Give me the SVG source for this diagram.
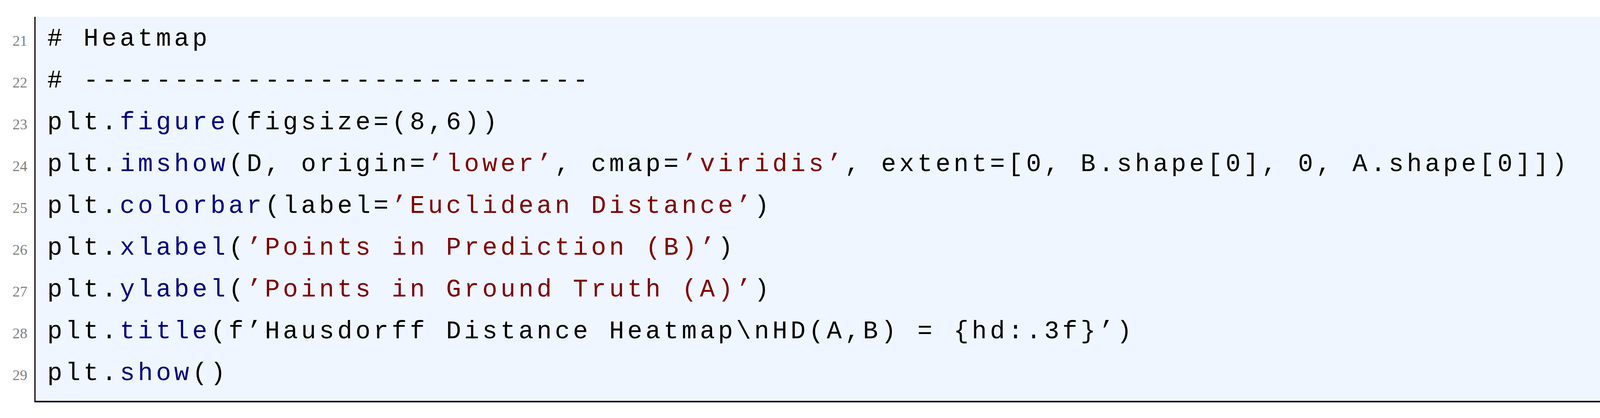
<svg xmlns="http://www.w3.org/2000/svg" width="4401" height="1070" viewBox="0 0 4401 1070">
<style>
.code{font-family:"Liberation Mono","DejaVu Sans Mono",monospace;font-size:64px;letter-spacing:8px;fill:#000;white-space:pre}
.kw{fill:#000080}
.st{fill:#800000}
.ln{font-family:"Liberation Serif","DejaVu Serif",serif;font-size:38px;fill:#808080;text-anchor:end}
</style>
<rect width="4401" height="1070" fill="#fff"/>
<g id="listing">
<rect x="88" y="43" width="4233" height="985" fill="#EFF6FF"/>
<line x1="89.5" y1="43" x2="89.5" y2="1028" stroke="#000" stroke-width="3"/>
<line x1="4321" y1="43" x2="4321" y2="1030" stroke="#000" stroke-width="4"/>
<line x1="88" y1="1028" x2="4323" y2="1028" stroke="#000" stroke-width="4"/>
</g>
<g id="linenumbers">
<text class="ln" x="70" y="117">21</text>
<text class="ln" x="70" y="224">22</text>
<text class="ln" x="70" y="331">23</text>
<text class="ln" x="70" y="438">24</text>
<text class="ln" x="70" y="545">25</text>
<text class="ln" x="70" y="652">26</text>
<text class="ln" x="70" y="759">27</text>
<text class="ln" x="70" y="866">28</text>
<text class="ln" x="70" y="973">29</text>
</g>
<g id="code" xml:space="preserve">
<text class="code" x="121" y="117"># Heatmap</text>
<text class="code" x="121" y="224"># ----------------------------</text>
<text class="code" x="121" y="331">plt.<tspan class="kw">figure</tspan>(figsize=(8,6))</text>
<text class="code" x="121" y="438">plt.<tspan class="kw">imshow</tspan>(D, origin=<tspan class="st">’lower’</tspan>, cmap=<tspan class="st">’viridis’</tspan>, extent=[0, B.shape[0], 0, A.shape[0]])</text>
<text class="code" x="121" y="545">plt.<tspan class="kw">colorbar</tspan>(label=<tspan class="st">’Euclidean Distance’</tspan>)</text>
<text class="code" x="121" y="652">plt.<tspan class="kw">xlabel</tspan>(<tspan class="st">’Points in Prediction (B)’</tspan>)</text>
<text class="code" x="121" y="759">plt.<tspan class="kw">ylabel</tspan>(<tspan class="st">’Points in Ground Truth (A)’</tspan>)</text>
<text class="code" x="121" y="866">plt.<tspan class="kw">title</tspan>(f’Hausdorff Distance Heatmap\nHD(A,B) = {hd:.3f}’)</text>
<text class="code" x="121" y="973">plt.<tspan class="kw">show</tspan>()</text>
</g>
</svg>
